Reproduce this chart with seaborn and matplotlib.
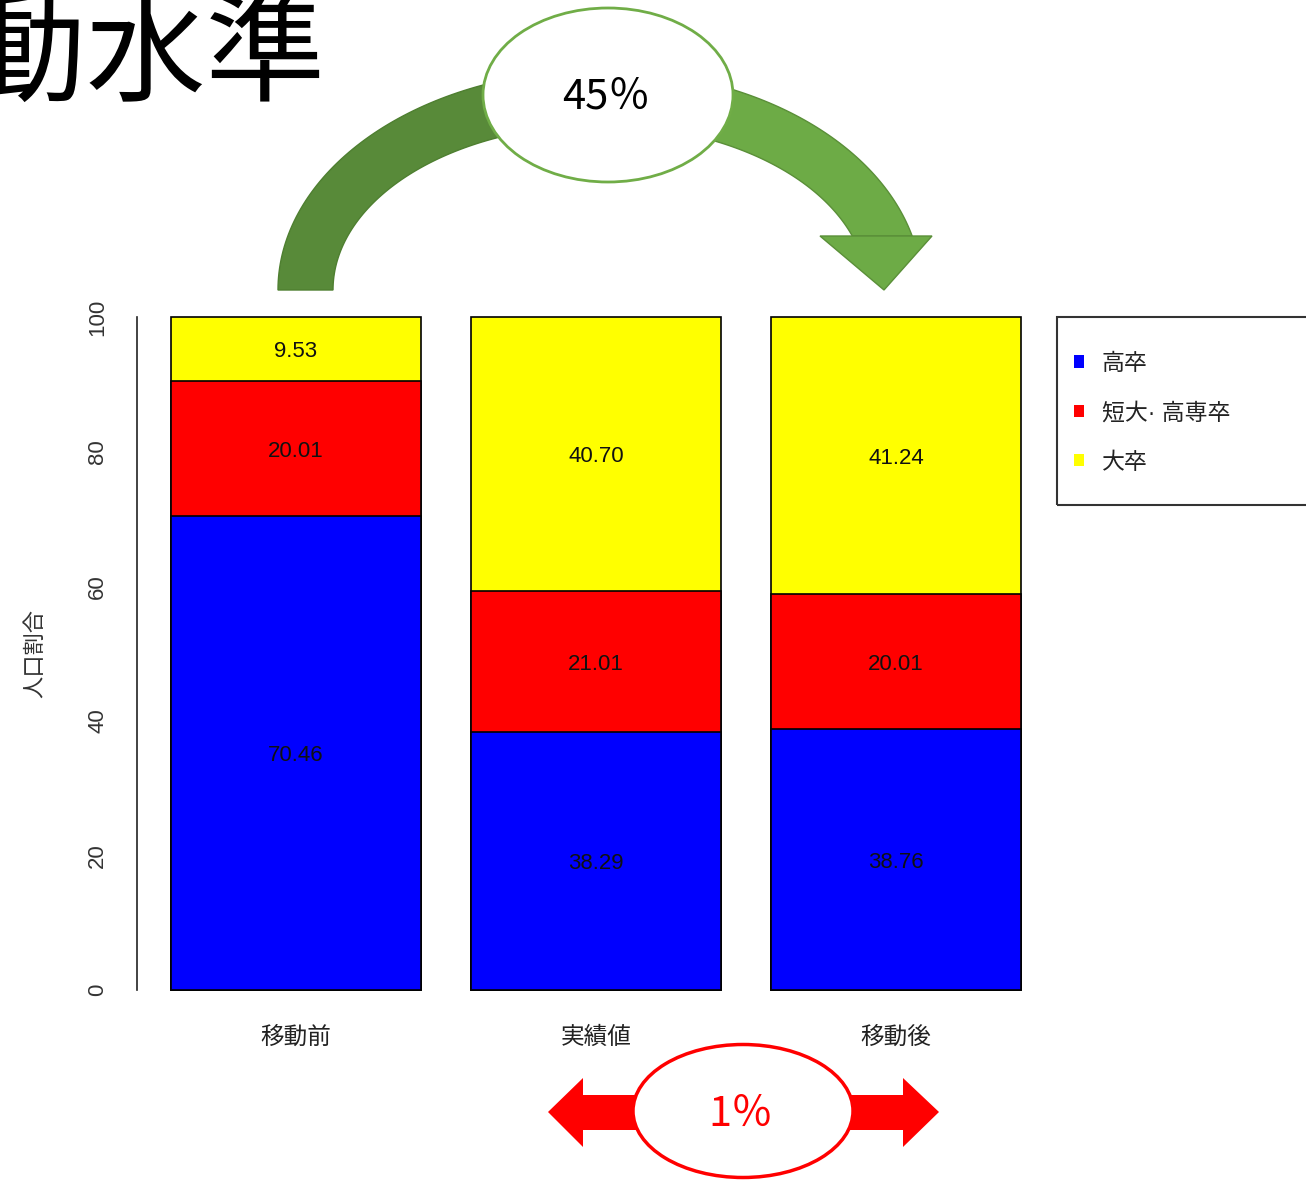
import seaborn as sns
import pandas as pd
import numpy as np
import matplotlib
matplotlib.use("Agg")
import matplotlib.pyplot as plt
from matplotlib.patches import Polygon, Ellipse, Rectangle, Patch

# data
groups = ["移動前", "実績値", "移動後"]
levels = ["高卒", "短大· 高専卒", "大卒"]
colors = ["#0000FF", "#FF0000", "#FFFF00"]
koso = [70.46, 38.29, 38.76]
tandai = [20.01, 21.01, 20.01]
daisotsu = [9.53, 40.70, 41.24]
ylabel = "人口割合"
title = "移動水準"
move_label = "45％"
diff_label = "1％"

sns.set_style("white")
plt.rcParams['font.family'] = ['Liberation Sans', 'Noto Sans CJK JP']
CJK = ['Noto Sans CJK JP', 'DejaVu Sans']

df = pd.DataFrame({
    "group": groups * 3,
    "level": np.repeat(levels, 3),
    "value": koso + tandai + daisotsu,
})
df["top"] = df.groupby("group", sort=False)["value"].cumsum()
df["mid"] = df["top"] - df["value"] / 2

W, H = 1306, 1180
fig = plt.figure(figsize=(W / 100, H / 100), dpi=100)
ax = fig.add_axes([137 / W, 1 - 1017 / H, 918 / W, 727 / H])

# stacked bars: draw cumulative tops, tallest first
for lvl, col in reversed(list(zip(levels, colors))):
    sub = df[df["level"] == lvl]
    sns.barplot(data=sub, x="group", y="top", order=groups, color=col,
                saturation=1, width=1 / 1.2, edgecolor="black", linewidth=1.2,
                errorbar=None, ax=ax)

for _, r in df.iterrows():
    ax.text(groups.index(r["group"]), r["mid"] - 0.4, f"{r['value']:.2f}",
            ha="center", va="center", fontsize=16, color="#111")

ax.set_xlim(-0.53, 2.53)
ax.set_ylim(-4, 104)
ax.set_yticks([0, 20, 40, 60, 80, 100])
ax.set_xlabel("")
ax.set_ylabel(ylabel, fontsize=16, color="#333")
ax.yaxis.set_label_coords(-0.099, 0.5)
for s in ["top", "right", "bottom"]:
    ax.spines[s].set_visible(False)
ax.spines["left"].set_bounds(0, 100)
ax.spines["left"].set_linewidth(1.2)
ax.spines["left"].set_color("#222")
ax.tick_params(axis="y", length=10.8, width=1.2, color="#222", pad=10,
               labelsize=16, labelcolor="#333", labelrotation=90)
for lbl in ax.get_yticklabels():
    lbl.set_va("center")
ax.tick_params(axis="x", length=0, pad=7, labelsize=17, labelcolor="#222")

# legend with separate frame (cut off at right like the reference)
ax.add_patch(Rectangle((1.002, 0.704), 0.5, 0.259, transform=ax.transAxes,
                       fill=False, ec="#333", lw=1.5, clip_on=False))
handles = [Patch(facecolor=c, edgecolor="none", label=l) for l, c in zip(levels, colors)]
ax.legend(handles=handles, loc="upper left", bbox_to_anchor=(1.0207, 0.915),
          frameon=False, borderpad=0, borderaxespad=0, fontsize=16.5,
          handlelength=0.45, handleheight=0.45, handletextpad=0.75,
          labelspacing=1.15, labelcolor="#222")

# decoration layer in pixel coordinates
deco = fig.add_axes([0, 0, 1, 1])
deco.set_xlim(0, W)
deco.set_ylim(H, 0)
deco.axis("off")
deco.patch.set_alpha(0)

deco.text(326, 59, title, fontsize=86, ha="right", va="center", family=CJK, color="black")


def arc_pts(cx, cy, a, b, t0, t1, n=80):
    t = np.radians(np.linspace(t0, t1, n))
    return np.column_stack([cx + a * np.cos(t), cy - b * np.sin(t)])


cx, cy = 600, 290
ao, bo, ai, bi = 322, 220, 267, 165
t_out = np.degrees(np.arcsin(54 / bo))
t_in = np.degrees(np.arcsin(54 / bi))
left = np.vstack([arc_pts(cx, cy, ao, bo, 180, 90), arc_pts(cx, cy, ai, bi, 90, 180)])
right = np.vstack([arc_pts(cx, cy, ao, bo, 90, t_out), arc_pts(cx, cy, ai, bi, t_in, 90)])
deco.add_patch(Polygon(left, closed=True, fc="#588A39", ec="#4E7F30", lw=1))
deco.add_patch(Polygon(right, closed=True, fc="#6DAB46", ec="#5A8F38", lw=1))
deco.add_patch(Polygon([(820, 236), (932, 236), (884, 290)], closed=True,
                       fc="#6DAB46", ec="#5A8F38", lw=1))
deco.add_patch(Ellipse((608, 95), 250, 174, fc="white", ec="#70AD47", lw=2))
deco.text(606, 97, move_label, fontsize=30, ha="center", va="center", family=CJK, color="black")

red_arrow = [(548, 1112), (583, 1078), (583, 1095), (903, 1095), (903, 1078),
             (939, 1112), (903, 1147), (903, 1130), (583, 1130), (583, 1147)]
deco.add_patch(Polygon(red_arrow, closed=True, fc="#FF0000", ec="none"))
deco.add_patch(Ellipse((743, 1111), 220, 133, fc="white", ec="#FF0000", lw=2.5))
deco.text(741, 1114, diff_label, fontsize=30, ha="center", va="center", family=CJK, color="#FF0000")

fig.savefig("out.png", dpi=100)
